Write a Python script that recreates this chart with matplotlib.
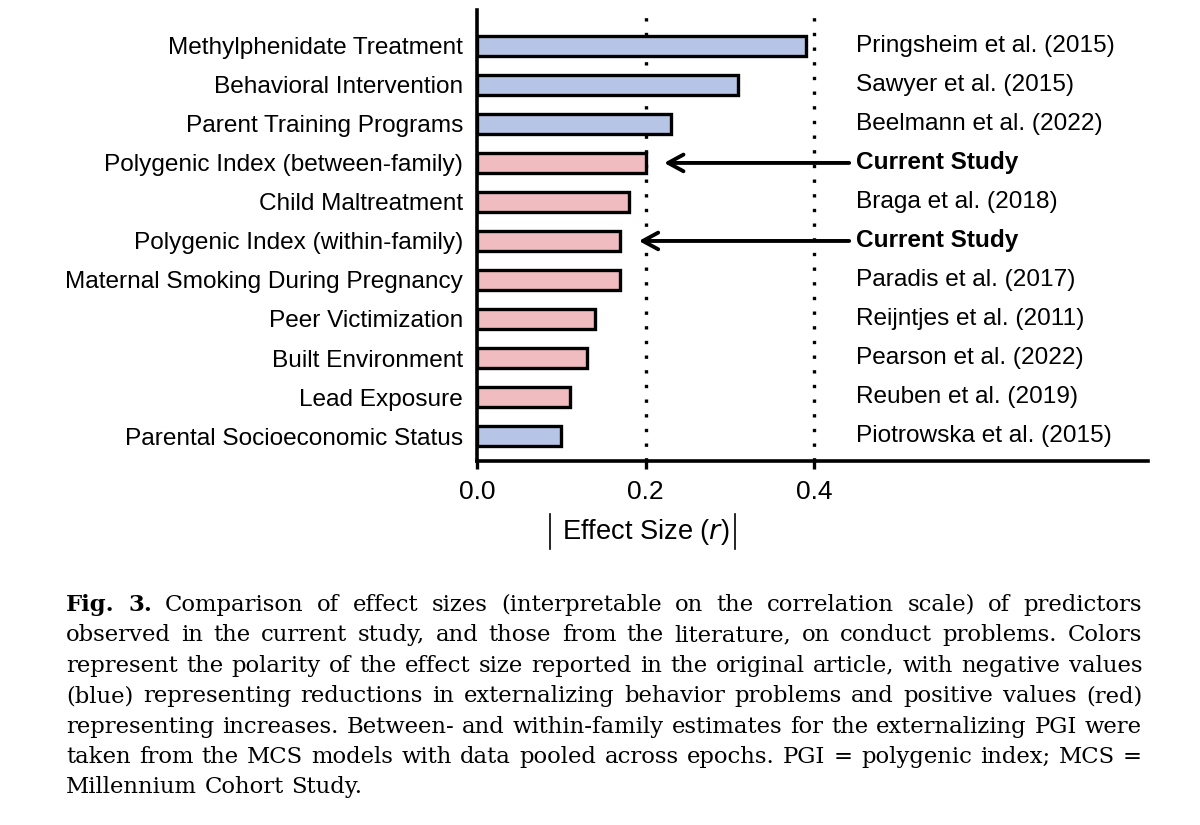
import matplotlib
matplotlib.use("Agg")
import matplotlib.pyplot as plt
from matplotlib.lines import Line2D

predictors = ["Methylphenidate Treatment", "Behavioral Intervention", "Parent Training Programs",
              "Polygenic Index (between-family)", "Child Maltreatment", "Polygenic Index (within-family)",
              "Maternal Smoking During Pregnancy", "Peer Victimization", "Built Environment",
              "Lead Exposure", "Parental Socioeconomic Status"]
effect_sizes = [0.39, 0.31, 0.23, 0.20, 0.18, 0.17, 0.17, 0.14, 0.13, 0.11, 0.10]
polarity = ["neg", "neg", "neg", "pos", "pos", "pos", "pos", "pos", "pos", "pos", "neg"]
sources = ["Pringsheim et al. (2015)", "Sawyer et al. (2015)", "Beelmann et al. (2022)",
           "Current Study", "Braga et al. (2018)", "Current Study", "Paradis et al. (2017)",
           "Reijntjes et al. (2011)", "Pearson et al. (2022)", "Reuben et al. (2019)",
           "Piotrowska et al. (2015)"]
xticks = [0.0, 0.2, 0.4]
xtick_labels = ["0.0", "0.2", "0.4"]

caption_lines = [
    "Comparison of effect sizes (interpretable on the correlation scale) of predictors",
    "observed in the current study, and those from the literature, on conduct problems. Colors",
    "represent the polarity of the effect size reported in the original article, with negative values",
    "(blue) representing reductions in externalizing behavior problems and positive values (red)",
    "representing increases. Between- and within-family estimates for the externalizing PGI were",
    "taken from the MCS models with data pooled across epochs. PGI = polygenic index; MCS =",
    "Millennium Cohort Study.",
]

sans = "Liberation Sans"
serif = "DejaVu Serif"
colors = {"neg": "#b6c4e6", "pos": "#f1bcbf"}

W, H = 1200, 825
fig = plt.figure(figsize=(12, 8.25), dpi=100)
ax = fig.add_axes([477/W, 1-461/H, (1148-477)/W, (461-10)/H])

ypos = list(range(len(predictors)))
ax.barh(ypos, effect_sizes, height=0.52, color=[colors[p] for p in polarity],
        edgecolor="black", linewidth=2.4, zorder=3)
ax.set_ylim(10.64, -0.92)
ax.set_xlim(0, 0.796)

for xv in [0.2, 0.4]:
    ax.axvline(xv, color="black", linestyle=(0, (1, 3.4)), linewidth=2.4, zorder=2)

ax.set_yticks(ypos)
ax.set_yticklabels(predictors, fontsize=17.6, family=sans)
ax.set_xticks(xticks)
ax.set_xticklabels(xtick_labels, fontsize=19, family=sans)
ax.tick_params(axis="y", length=0, pad=10)
ax.tick_params(axis="x", length=6, width=2.4, direction="out", pad=8)

for s in ["top", "right"]:
    ax.spines[s].set_visible(False)
for s in ["left", "bottom"]:
    ax.spines[s].set_linewidth(2.6)

label_x = 0.45
for i, src in enumerate(sources):
    bold = src == "Current Study"
    ax.text(label_x, i, src, va="center", ha="left", fontsize=17.6, family=sans,
            fontweight="bold" if bold else "normal")
    if bold:
        ax.annotate("", xy=(effect_sizes[i] + 0.022, i), xytext=(0.4415, i),
                    arrowprops=dict(arrowstyle="->,head_length=1.1,head_width=0.6",
                                    color="black", lw=2.8, shrinkA=0, shrinkB=0))

# axis title: | Effect Size (r) |
ax.text(0.2, -0.158, r"Effect Size ($\it{r}$)", transform=ax.get_xaxis_transform(),
        ha="center", va="center", fontsize=19.6, family=sans)
for xp in [550, 735]:
    fig.add_artist(Line2D([xp/W, xp/W], [1-514/H, 1-549/H], color="black", lw=1.2))

# caption, justified
fig.canvas.draw()
renderer = fig.canvas.get_renderer()
left_px, right_px = 66, 1142
fs = 16.4
y0, dy = 611, 30.4

def width_px(s, weight="normal"):
    t = fig.text(0, 0, s, fontsize=fs, family=serif, fontweight=weight)
    w = t.get_window_extent(renderer).width
    t.remove()
    return w

space = width_px("a b") - width_px("ab")
for k, line in enumerate(caption_lines):
    ypx = y0 + dy * k
    items = [(w, "normal") for w in line.split(" ")]
    if k == 0:
        items = [("Fig.", "bold"), ("3.", "bold")] + items
    widths = [width_px(w, wt) for w, wt in items]
    if k < len(caption_lines) - 1 and len(items) > 1:
        gap = (right_px - left_px - sum(widths)) / (len(items) - 1)
    else:
        gap = space
    x = left_px
    for (w, wt), wd in zip(items, widths):
        fig.text(x/W, 1-ypx/H, w, fontsize=fs, family=serif, fontweight=wt,
                 va="baseline", ha="left")
        x += wd + gap

fig.savefig("out.png", dpi=100)
